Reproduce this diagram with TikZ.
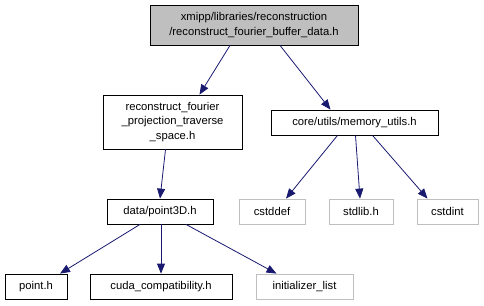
\documentclass[tikz,border=0pt]{standalone}
\usepackage{fontspec}
\setmainfont{Liberation Sans}
\usetikzlibrary{arrows.meta}
\definecolor{edgeblue}{HTML}{191970}
\definecolor{topfill}{HTML}{BFBFBF}
\definecolor{sysgray}{HTML}{BFBFBF}
\begin{document}
\begin{tikzpicture}[x=1bp,y=-1bp,
  every node/.style={font=\fontsize{11.3}{14.5}\selectfont, inner sep=0pt, align=center},
  filebox/.style={draw=black, line width=0.8bp, rectangle},
  sysbox/.style={draw=sysgray, line width=0.8bp, rectangle},
  rootbox/.style={draw=black, fill=topfill, line width=0.8bp, rectangle},
  dep/.style={draw=edgeblue, line width=0.8bp, -{Triangle[length=10bp,width=8bp]}}]
\useasboundingbox (0,0) rectangle (484,305);

% header being documented
\node[rootbox, minimum width=208bp, minimum height=40bp] (top) at (254,25)
  {xmipp/libraries/reconstruction\\/reconstruct\_fourier\_buffer\_data.h};

% direct includes
\node[filebox, minimum width=139bp, minimum height=54bp] (proj) at (172.5,122)
  {reconstruct\_fourier\\\_projection\_traverse\\\_space.h};
\node[filebox, minimum width=167bp, minimum height=25bp] (mem) at (354.5,122.5)
  {core/utils/memory\_utils.h};

% second level
\node[filebox, minimum width=106bp, minimum height=25bp] (p3d) at (160,211.5) {data/point3D.h};
\node[sysbox, minimum width=66bp, minimum height=25bp] (cstddef) at (272,211.5) {cstddef};
\node[sysbox, minimum width=64bp, minimum height=25bp] (stdlib) at (361,211.5) {stdlib.h};
\node[sysbox, minimum width=61bp, minimum height=25bp] (cstdint) at (447.5,211.5) {cstdint};

% third level
\node[filebox, minimum width=62bp, minimum height=25bp] (point) at (36,286.5) {point.h};
\node[filebox, minimum width=142bp, minimum height=25bp] (cuda) at (161,286.5) {cuda\_compatibility.h};
\node[sysbox, minimum width=97bp, minimum height=25bp] (init) at (304.5,286.5) {initializer\_list};

% include edges
\draw[dep] ([xshift=-24bp]top.south) -- ([xshift=27bp]proj.north);
\draw[dep] ([xshift=26bp]top.south) -- ([xshift=-24bp]mem.north);
\draw[dep] ([xshift=-7bp]proj.south) -- (p3d.north);
\draw[dep] ([xshift=-17bp]mem.south) -- ([xshift=14bp]cstddef.north);
\draw[dep] ([xshift=1bp]mem.south) -- ([xshift=-1bp]stdlib.north);
\draw[dep] ([xshift=18bp]mem.south) -- ([xshift=-20bp]cstdint.north);
\draw[dep] ([xshift=-20bp]p3d.south) -- ([xshift=24bp]point.north);
\draw[dep] ([xshift=1bp]p3d.south) -- (cuda.north);
\draw[dep] ([xshift=26bp]p3d.south) -- ([xshift=-28bp]init.north);
\end{tikzpicture}
\end{document}
